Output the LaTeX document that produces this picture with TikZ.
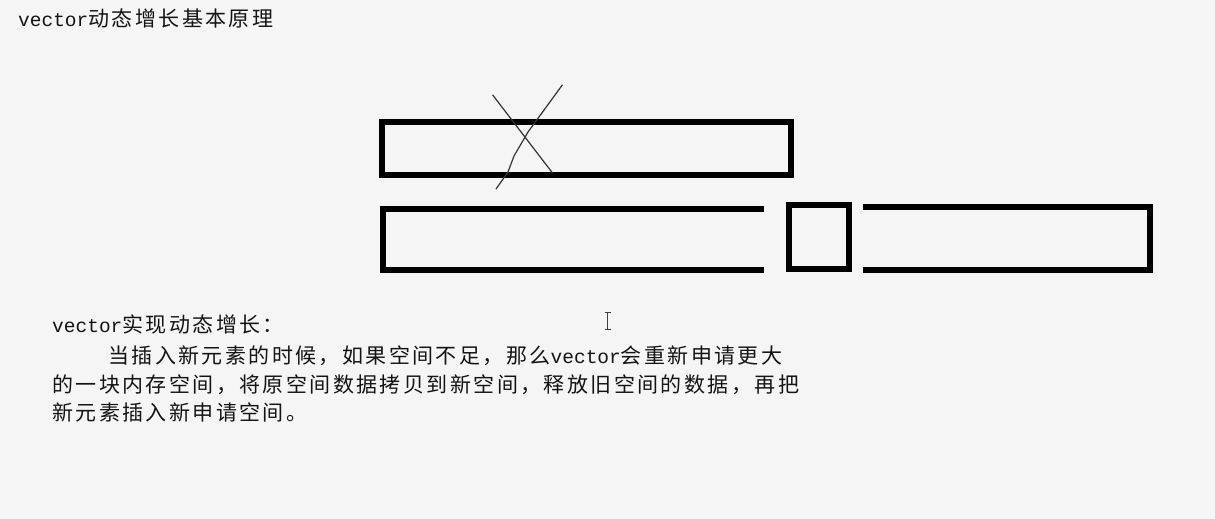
\documentclass[tikz,border=0pt]{standalone}
\usepackage{fontspec}
\setmonofont{Liberation Mono}
\newfontfamily\cjkfont[LetterSpace=11.5]{Noto Sans CJK SC}
\newcommand\vecword{{\ttfamily\fontsize{19.5}{22}\selectfont vector}}
\begin{document}
\begin{tikzpicture}[x=1pt,y=-1pt,
  memblock/.style={line width=6pt,line cap=butt,line join=miter,draw=black},
  handline/.style={line width=1.2pt,draw=black!80,line join=round,line cap=round},
  txt/.style={inner sep=0pt,anchor=base west,text=black!92,font=\fontsize{21}{24}\selectfont}]
\useasboundingbox (0,0) rectangle (1215,519);
\fill[black!4] (0,0) rectangle (1215,519);
% title
\node[txt] (title) at (18,26.5) {\vecword\cjkfont 动态增长基本原理};
% old block
\draw[memblock] (382,122) rectangle (791,175);
% cross
\draw[handline] (492.7,95) -- (552.3,172.7);
\draw[handline] (562.3,85) -- (528,132) -- (514,156) -- (508,172) -- (496,189);
% new blocks
\draw[memblock] (764,208.7) -| (383,269.7) -- (764,269.7);
\draw[memblock] (788.7,205.3) rectangle (849,268.5);
\draw[memblock] (863.3,207.3) -| (1150.3,269.5) -- (863.3,269.5);
% cursor
\draw[line width=1pt,black!75] (607.7,312.5) -- (607.7,329.5)
  (604.5,312.5) -- (611,312.5) (604.5,329.5) -- (611,329.5);
% text
\node[txt] (head) at (52,332.5) {\vecword\cjkfont 实现动态增长：};
\node[txt] (l1) at (108,363) {\cjkfont 当插入新元素的时候，如果空间不足，那么\vecword\cjkfont 会重新申请更大};
\node[txt] (l2) at (52,392) {\cjkfont 的一块内存空间，将原空间数据拷贝到新空间，释放旧空间的数据，再把};
\node[txt] (l3) at (52,420) {\cjkfont 新元素插入新申请空间。};
\end{tikzpicture}
\end{document}
